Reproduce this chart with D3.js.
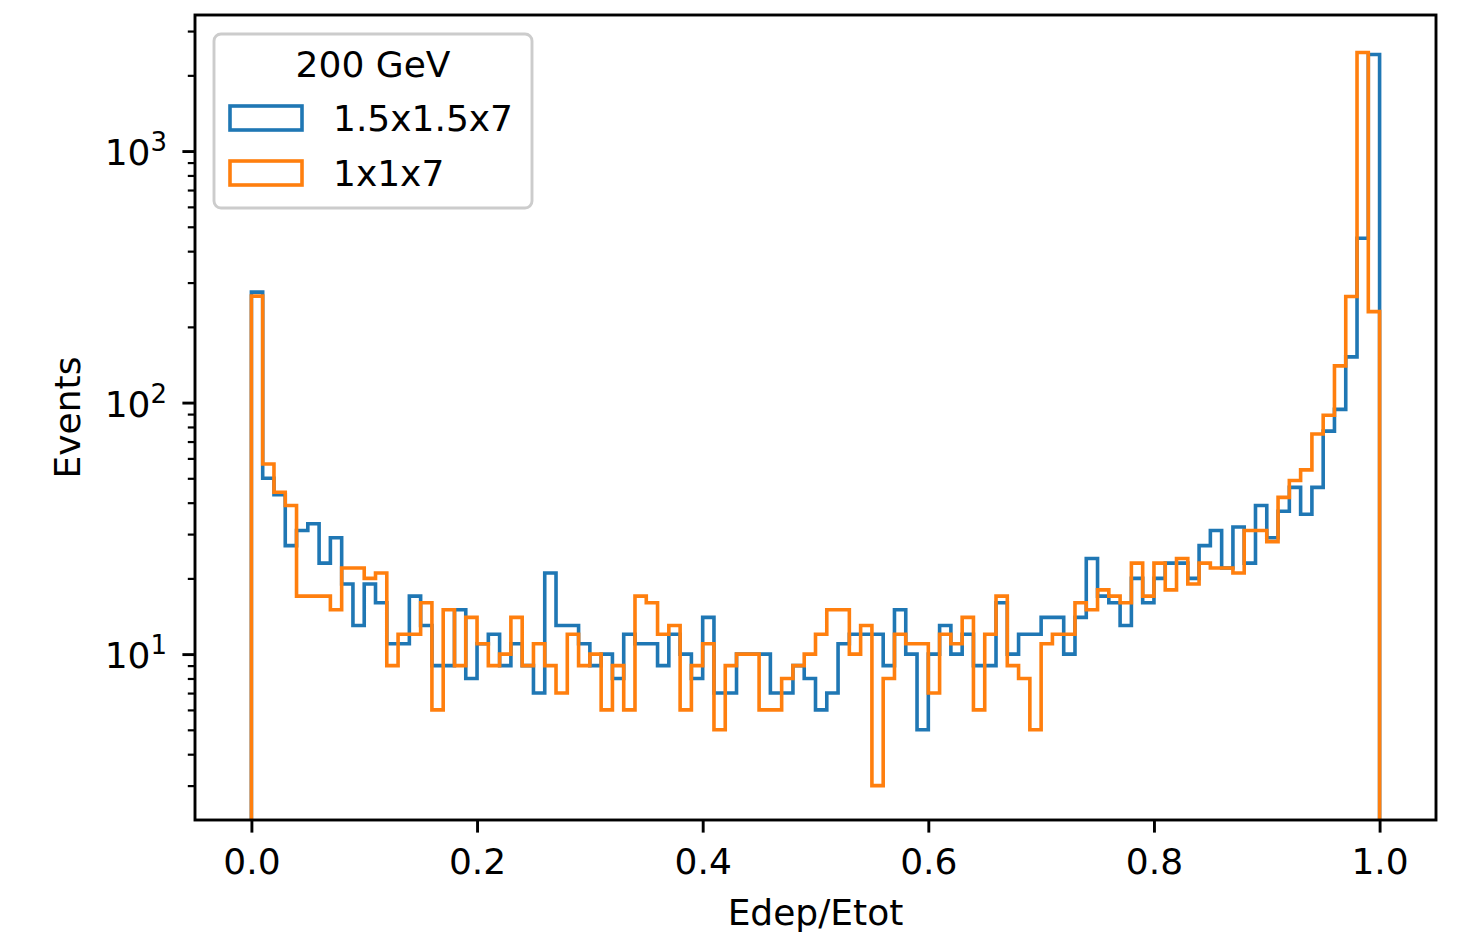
<!DOCTYPE html>
<html>
<head>
<meta charset="utf-8">
<script src="https://cdn.jsdelivr.net/npm/d3@7"></script>
<style>
  html, body { margin: 0; padding: 0; background: #fff; }
  svg { display: block; font-family: "DejaVu Sans", sans-serif; }
</style>
</head>
<body>
<div id="chart"></div>
<script>
// 100 bins of width 0.01 on [0, 1]
const binEdges = d3.range(101).map(i => i / 100);

const countsWide = [
  275, 50, 43, 27, 31, 33, 23, 29, 19, 13,
  19, 16, 11, 11, 17, 13, 9, 9, 15, 8,
  11, 12, 9, 11, 9, 7, 21, 13, 13, 11,
  9, 10, 8, 12, 11, 11, 9, 12, 10, 8,
  14, 7, 7, 10, 10, 10, 7, 7, 9, 8,
  6, 7, 11, 12, 12, 12, 9, 15, 10, 5,
  10, 13, 10, 12, 9, 9, 16, 10, 12, 12,
  14, 14, 10, 14, 24, 17, 16, 13, 20, 16,
  20, 23, 23, 20, 27, 31, 22, 32, 23, 39,
  29, 37, 46, 36, 46, 77, 94, 152, 450, 2420
];

const countsNarrow = [
  265, 57, 44, 39, 17, 17, 17, 15, 22, 22,
  20, 21, 9, 12, 12, 16, 6, 15, 9, 14,
  11, 9, 10, 14, 9, 11, 9, 7, 12, 9,
  10, 6, 9, 6, 17, 16, 12, 13, 6, 9,
  11, 5, 9, 10, 10, 6, 6, 8, 9, 10,
  12, 15, 15, 10, 13, 3, 8, 12, 11, 11,
  7, 12, 11, 14, 6, 12, 17, 9, 8, 5,
  11, 12, 12, 16, 15, 18, 17, 16, 23, 17,
  23, 18, 24, 19, 23, 22, 22, 21, 31, 31,
  28, 42, 49, 54, 75, 89, 140, 264, 2466, 230
];

const seriesNames = ["1.5x1.5x7", "1x1x7"];
const seriesColors = ["#1f77b4", "#ff7f0e"];
const legendTitle = "200 GeV";

const xTicks = [0, 0.2, 0.4, 0.6, 0.8, 1.0];
const yMajor = [10, 100, 1000];
const yMinor = [3, 4, 5, 6, 7, 8, 9, 20, 30, 40, 50, 60, 70, 80, 90,
                200, 300, 400, 500, 600, 700, 800, 900, 2000, 3000];

const W = 1459, H = 937;
const margin = { top: 15, right: 23, bottom: 117, left: 195 };
const iw = W - margin.left - margin.right;
const ih = H - margin.top - margin.bottom;

const x = d3.scaleLinear().domain([-0.05, 1.05]).range([0, iw]);
const y = d3.scaleLog().domain([2.19, 3475]).range([ih, 0]);

const svg = d3.select("#chart").append("svg")
  .attr("width", W).attr("height", H);

svg.append("defs").append("clipPath").attr("id", "plot-clip")
  .append("rect").attr("width", iw).attr("height", ih);

const g = svg.append("g")
  .attr("transform", `translate(${margin.left},${margin.top})`);

// step outline: up from the floor at 0, across every bin, back down at 1
function stepPoints(counts) {
  const pts = [[binEdges[0], 1]];
  counts.forEach((c, i) => {
    pts.push([binEdges[i], c]);
    pts.push([binEdges[i + 1], c]);
  });
  pts.push([binEdges[binEdges.length - 1], 1]);
  return pts;
}

const line = d3.line()
  .x(d => x(d[0]))
  .y(d => y(d[1]));

const plot = g.append("g").attr("clip-path", "url(#plot-clip)");
[countsWide, countsNarrow].forEach((counts, k) => {
  plot.append("path")
    .datum(stepPoints(counts))
    .attr("d", line)
    .attr("fill", "none")
    .attr("stroke", seriesColors[k])
    .attr("stroke-width", 3.6)
    .attr("stroke-linejoin", "miter");
});

// x axis
const xAxis = g.append("g")
  .attr("transform", `translate(0,${ih})`)
  .call(d3.axisBottom(x).tickValues(xTicks)
    .tickFormat(d3.format(".1f")).tickSize(12.6).tickPadding(16).tickSizeOuter(0));
xAxis.select(".domain").remove();
xAxis.selectAll(".tick line").attr("stroke", "#000").attr("stroke-width", 2.9);
xAxis.selectAll(".tick text")
  .attr("font-size", 36).attr("font-family", "DejaVu Sans").attr("fill", "#000");

// y axis, major ticks with power-of-ten labels
const yAxis = g.append("g")
  .call(d3.axisLeft(y).tickValues(yMajor).tickFormat("").tickSize(12.6).tickSizeOuter(0));
yAxis.select(".domain").remove();
yAxis.selectAll(".tick line").attr("stroke", "#000").attr("stroke-width", 2.9);

const yMinorAxis = g.append("g")
  .call(d3.axisLeft(y).tickValues(yMinor).tickFormat("").tickSize(7.2).tickSizeOuter(0));
yMinorAxis.select(".domain").remove();
yMinorAxis.selectAll(".tick line").attr("stroke", "#000").attr("stroke-width", 2.2);

yMajor.forEach(v => {
  const t = g.append("text")
    .attr("x", -28)
    .attr("y", y(v) + 14)
    .attr("text-anchor", "end")
    .attr("fill", "#000")
    .attr("font-size", 36);
  t.append("tspan").text("10");
  t.append("tspan").attr("font-size", 26).attr("dy", -14)
    .text(Math.round(Math.log10(v)));
});

// frame
g.append("rect")
  .attr("width", iw).attr("height", ih)
  .attr("fill", "none").attr("stroke", "#000").attr("stroke-width", 2.9);

// axis labels
svg.append("text")
  .attr("x", margin.left + x(0.5))
  .attr("y", 925)
  .attr("text-anchor", "middle")
  .attr("font-size", 36)
  .text("Edep/Etot");

svg.append("text")
  .attr("transform", `translate(80,${margin.top + ih / 2}) rotate(-90)`)
  .attr("text-anchor", "middle")
  .attr("font-size", 36)
  .text("Events");

// legend
const legend = svg.append("g").attr("transform", "translate(214,34)");
legend.append("rect")
  .attr("width", 318).attr("height", 174)
  .attr("rx", 7).attr("ry", 7)
  .attr("fill", "#fff").attr("fill-opacity", 0.8)
  .attr("stroke", "#cccccc").attr("stroke-width", 2.9);
legend.append("text")
  .attr("x", 159).attr("y", 43)
  .attr("text-anchor", "middle")
  .attr("font-size", 36)
  .text(legendTitle);
seriesNames.forEach((name, k) => {
  const row = legend.append("g").attr("transform", `translate(0,${72 + k * 55})`);
  row.append("rect")
    .attr("x", 16).attr("y", 0)
    .attr("width", 72).attr("height", 24)
    .attr("fill", "none")
    .attr("stroke", seriesColors[k]).attr("stroke-width", 3.6);
  row.append("text")
    .attr("x", 119).attr("y", 25)
    .attr("font-size", 36)
    .text(name);
});
</script>
</body>
</html>
